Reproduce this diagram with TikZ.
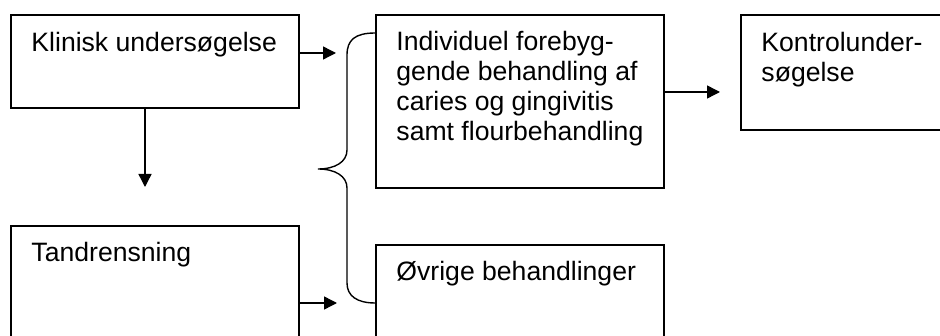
\documentclass[tikz,border=0pt]{standalone}
\usepackage{fontspec}
\setmainfont{Liberation Sans}
\usetikzlibrary{arrows.meta}

\tikzset{
  box/.style={draw, line width=1.5pt, minimum width=288pt, inner sep=0pt},
  txt/.style={anchor=base west, inner sep=0pt, align=left,
    font=\fontsize{26.6}{30}\selectfont},
  arr/.style={line width=1.4pt, -{Triangle[length=13pt,width=13pt]}}
}

\begin{document}
\begin{tikzpicture}[x=1pt, y=-1pt]
    \useasboundingbox (0,0) rectangle (940,336);
    \clip (0,0) rectangle (940,336);

    % kasser
    \node[box, minimum height=93pt] (klin) at (155,61.5) {};
    \node[box, minimum height=173pt] (indiv) at (520,101.5) {};
    \node[box, minimum width=219pt, minimum height=115pt] (kontrol) at (850.5,72.5) {};
    \node[box, minimum height=120pt] (tand) at (155,286) {};
    \node[box, minimum height=101pt] (ovrige) at (520,295.5) {};

    % tekster (base = sidste linje)
    \node[txt] (klintxt) at ([shift={(21,37)}]klin.north west) {Klinisk undersøgelse};
    \node[txt] (indivtxt) at ([shift={(21,126)}]indiv.north west)
        {Individuel forebyg-\\gende behandling af\\caries og gingivitis\\samt flourbehandling};
    \node[txt] (kontroltxt) at ([shift={(21,67)}]kontrol.north west) {Kontrolunder-\\søgelse};
    \node[txt] (tandtxt) at ([shift={(21,36)}]tand.north west) {Tandrensning};
    \node[txt] (ovrigetxt) at ([shift={(21,36)}]ovrige.north west) {Øvrige behandlinger};

    % pile
    \coordinate (a1) at (336,53);
    \coordinate (a2) at (145,187);
    \coordinate (a3) at (337,303);
    \coordinate (a4) at (720,92);
    \draw[arr] (klin.east |- a1) -- (a1);
    \draw[arr] (klin.south -| a2) -- (a2);
    \draw[arr] (tand.east |- a3) -- (a3);
    \draw[arr] (indiv.east |- a4) -- (a4);

    % klamme
    \draw[line width=1.4pt] (indiv.west |- 0,33) .. controls (355,33) and (347,40) .. (347,55)
        -- (347,150) .. controls (347,162) and (335,169) .. (318,169)
        .. controls (335,169) and (347,176) .. (347,188)
        -- (347,283) .. controls (347,296) and (357,303) .. (ovrige.west |- 0,303);
\end{tikzpicture}
\end{document}
